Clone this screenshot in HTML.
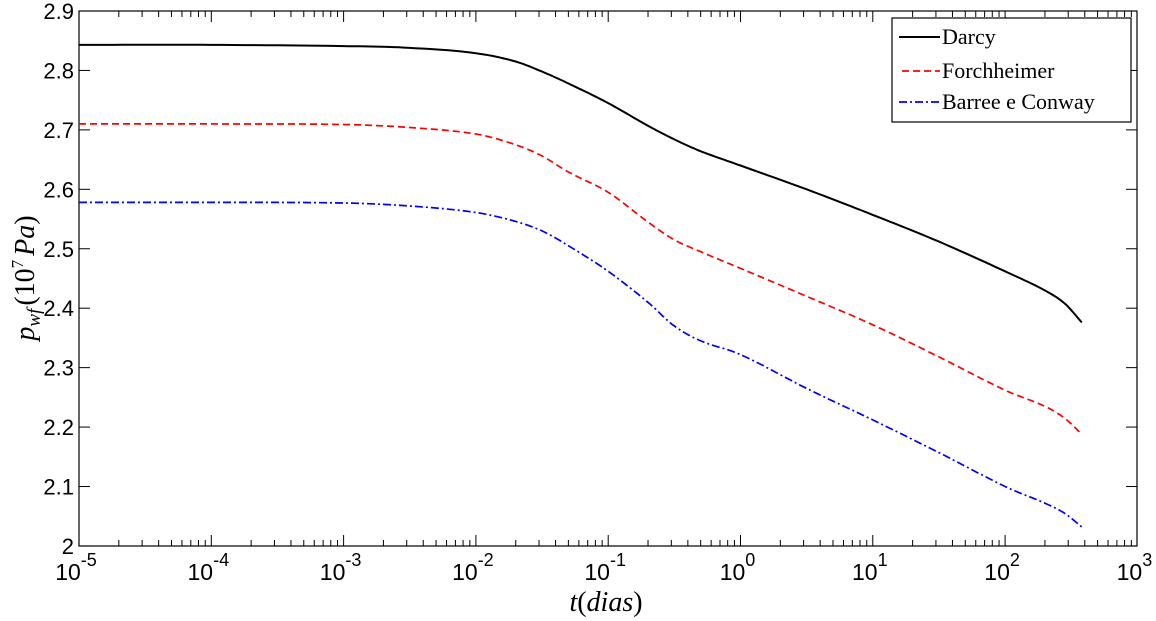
<!DOCTYPE html>
<html><head><meta charset="utf-8"><style>
html,body{margin:0;padding:0;background:#fff;}
svg{display:block;}
</style></head><body>
<svg id="s" width="1156" height="621" xmlns="http://www.w3.org/2000/svg" font-family="Liberation Sans, sans-serif"></svg>
<script>
const s=document.getElementById('s');
const L=79,R=1137,T=11,B=546,D=132.3;
const X=lt=>L+(lt+5)*D, Y=v=>T+(2.9-v)*594.4;
let h='';
h+=`<rect x="${L}" y="${T}" width="${R-L}" height="${B-T}" fill="none" stroke="#000" stroke-width="1.2"/>`;
for(let d=-5;d<3;d++){for(let k=1;k<10;k++){const x=X(d+Math.log10(k));const len=k==1?11:6;
h+=`<line x1="${x}" y1="${B}" x2="${x}" y2="${B-len}" stroke="#000"/><line x1="${x}" y1="${T}" x2="${x}" y2="${T+len}" stroke="#000"/>`;}}
for(let d=-5;d<=3;d++){const x=X(d);
h+=`<text x="${x-3}" y="580" font-size="23" text-anchor="middle">10<tspan dy="-14" font-size="18">${d}</tspan></text>`;}
for(let i=0;i<=9;i++){const v=2+i/10,y=Y(v);
h+=`<line x1="${L}" y1="${y}" x2="${L+11}" y2="${y}" stroke="#000"/><line x1="${R}" y1="${y}" x2="${R-11}" y2="${y}" stroke="#000"/>`;
h+=`<text x="74" y="${y+8}" font-size="22" text-anchor="end">${i==0?'2':v.toFixed(1)}</text>`;}
const lt=[-5,-4,-3,-2.5,-2,-1.7,-1.5,-1.3,-1,-0.7,-0.5,-0.3,0,0.5,1,1.5,2,2.3,2.45,2.58];
const dar=[2.843,2.843,2.841,2.838,2.829,2.815,2.798,2.778,2.745,2.707,2.684,2.664,2.64,2.6,2.557,2.512,2.462,2.43,2.408,2.376];
const fo=[2.71,2.71,2.709,2.704,2.693,2.675,2.656,2.629,2.595,2.545,2.515,2.495,2.467,2.42,2.372,2.318,2.262,2.235,2.215,2.188];
const ba=[2.578,2.578,2.577,2.572,2.561,2.546,2.53,2.505,2.462,2.41,2.37,2.345,2.322,2.265,2.212,2.157,2.1,2.072,2.055,2.032];
function path(arr){let p='';const n=lt.length;
for(let i=0;i<n-1;i++){
const x0=lt[Math.max(i-1,0)],x1=lt[i],x2=lt[i+1],x3=lt[Math.min(i+2,n-1)];
const p0=arr[Math.max(i-1,0)],p1=arr[i],p2=arr[i+1],p3=arr[Math.min(i+2,n-1)];
const m1=(p2-p0)/(x2-x0||1)*(x2-x1), m2=(p3-p1)/(x3-x1||1)*(x2-x1);
for(let j=0;j<12;j++){const t=j/12,t2=t*t,t3=t2*t;
const v=(2*t3-3*t2+1)*p1+(t3-2*t2+t)*m1+(-2*t3+3*t2)*p2+(t3-t2)*m2;
p+=(p?'L':'M')+X(x1+(x2-x1)*t).toFixed(1)+' '+Y(v).toFixed(1);}}
p+='L'+X(lt[n-1]).toFixed(1)+' '+Y(arr[n-1]).toFixed(1);return p;}
h+=`<path d="${path(dar)}" fill="none" stroke="#000" stroke-width="2"/>`;
h+=`<path d="${path(fo)}" fill="none" stroke="#f00" stroke-width="1.7" stroke-dasharray="7,4"/>`;
h+=`<path d="${path(ba)}" fill="none" stroke="#00f" stroke-width="1.7" stroke-dasharray="8,3,2,3"/>`;
h+=`<rect x="892" y="18" width="239" height="104" fill="#fff" stroke="#000" stroke-width="1.2"/>`;
h+=`<line x1="899" y1="37" x2="940" y2="37" stroke="#000" stroke-width="2"/>`;
h+=`<line x1="902" y1="71" x2="940" y2="71" stroke="#f00" stroke-width="1.7" stroke-dasharray="7,4"/>`;
h+=`<line x1="899" y1="102" x2="940" y2="102" stroke="#00f" stroke-width="1.7" stroke-dasharray="8,3,2,3"/>`;
const lf='font-family="Liberation Serif, serif" font-size="22"';
h+=`<text x="942" y="44" ${lf}>Darcy</text><text x="942" y="78" ${lf}>Forchheimer</text><text x="942" y="109" ${lf}>Barree e Conway</text>`;
h+=`<text x="606" y="611" font-family="Liberation Serif, serif" font-size="28" font-style="italic" text-anchor="middle">t<tspan font-style="normal">(</tspan>dias<tspan font-style="normal">)</tspan></text>`;
h+=`<text transform="translate(34,278) rotate(-90)" font-family="Liberation Serif, serif" font-size="28" text-anchor="middle"><tspan font-style="italic">p</tspan><tspan font-style="italic" font-size="19" dy="6">wf</tspan><tspan dx="3" dy="-6">(10</tspan><tspan font-size="17" dy="-11">7</tspan><tspan dx="4" dy="11" font-style="italic">Pa</tspan>)</text>`;
s.innerHTML=h;
</script>
</body></html>
